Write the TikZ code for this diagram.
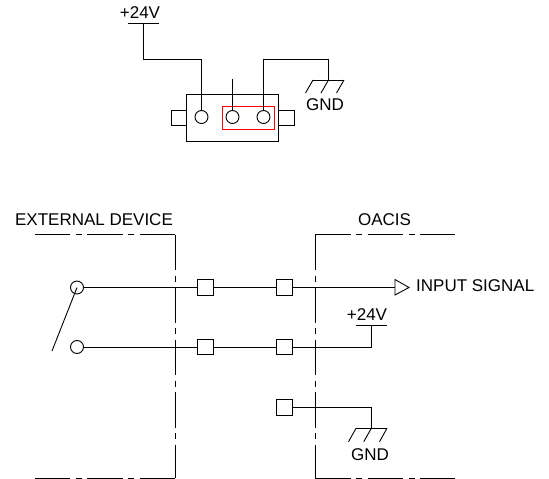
\documentclass[tikz,border=0pt]{standalone}
\usepackage{fontspec}
\setmainfont{Liberation Sans}
\definecolor{frame}{HTML}{FF0000}
\tikzset{
  wire/.style={draw=black,line width=0.9pt},
  term/.style={circle,draw=black,line width=0.9pt,fill=white,minimum size=13pt,inner sep=0pt,outer sep=0pt},
  pin/.style={rectangle,draw=black,line width=0.9pt,fill=white,minimum size=15.5pt,inner sep=0pt,outer sep=0pt},
  lbl/.style={inner sep=0pt,outer sep=0pt,anchor=base,font=\fontsize{17pt}{18pt}\selectfont},
  border/.style={draw=black,line width=0.9pt,dash pattern=on 35.5pt off 5.5pt on 6pt off 5.5pt},
}
\begin{document}
\begin{tikzpicture}[x=1pt,y=-1pt]
\useasboundingbox (0,0) rectangle (549,479);
% --- connector
\draw[wire] (186,94.5) rectangle (278.5,141);
\draw[wire] (186,110) -- (171,110) -- (171,125) -- (186,125);
\draw[wire] (278.5,110) -- (294,110) -- (294,125) -- (278.5,125);
\draw[draw=frame,line width=0.9pt] (222,106.5) rectangle (274,129);
\coordinate (v1) at (143.5,23.5);
\coordinate (g1) at (328.5,80);
\coordinate (free) at (232.5,79);
\node[term] (p1) at (201.5,117) {};
\node[term] (p2) at (232.5,117) {};
\node[term] (p3) at (263.5,117) {};
\draw[wire] (v1) -- (143.5,59) -| (p1.north);
\draw[wire] (free) -- (p2.north);
\draw[wire] (p3.north) |- (328.5,59) -- (g1);
\draw[wire] (128,23.5) -- (159,23.5);
\node[lbl] (t24a) at (140,18) {+24V};
\draw[wire] (313,80) -- (344,80);
\draw[wire] (313,80) -- (305.5,93);
\draw[wire] (g1) -- (321,93);
\draw[wire] (344,80) -- (336.5,93);
\node[lbl] (tgnda) at (325,110.7) {GND};
% --- borders
\draw[border] (175,234.5) -- (35,234.5);
\draw[border] (175,234.5) -- (175,478);
\draw[border] (175,478) -- (35,478);
\draw[border] (315,234.5) -- (455,234.5);
\draw[border] (315,234.5) -- (315,478);
\draw[border] (315,478) -- (455,478);
\node[lbl] (text) at (94,225) {EXTERNAL DEVICE};
\node[lbl] (toac) at (384.5,225) {OACIS};
% --- circuit
\node[term] (s1) at (77,287.5) {};
\node[term] (s2) at (77,347) {};
\coordinate (arm) at (52,351);
\node[pin] (a1) at (205.5,287.5) {};
\node[pin] (a2) at (284.5,287.5) {};
\node[pin] (b1) at (205.5,347) {};
\node[pin] (b2) at (284.5,347) {};
\node[pin] (c2) at (284.5,407.5) {};
\coordinate (v2) at (371.3,325.3);
\coordinate (g2) at (371.3,428.3);
\coordinate (tri) at (395,287.5);
\draw[wire] (s1) -- (a1);
\draw[wire] (a1) -- (a2);
\draw[wire] (a2) -- (tri);
\draw[wire] (395,279.5) -- (409,287.5) -- (395,295) -- cycle;
\draw[wire] (s1.center) -- (arm);
\draw[wire] (s2) -- (b1);
\draw[wire] (b1) -- (b2);
\draw[wire] (b2) -| (v2);
\draw[wire] (356,325.3) -- (386.7,325.3);
\draw[wire] (c2) -| (g2);
\draw[wire] (356,428.3) -- (387,428.3);
\draw[wire] (356,428.3) -- (348.5,441.7);
\draw[wire] (g2) -- (363.8,441.7);
\draw[wire] (387,428.3) -- (379.5,441.7);
\node[lbl] (tinp) at (475.2,291.7) {INPUT SIGNAL};
\node[lbl] (t24b) at (367,320.7) {+24V};
\node[lbl] (tgndb) at (370,460) {GND};
\end{tikzpicture}
\end{document}
